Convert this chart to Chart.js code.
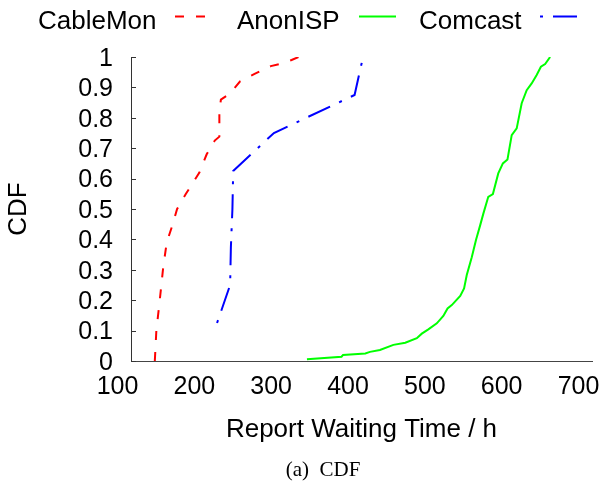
<!DOCTYPE html>
<html>
<head>
<meta charset="utf-8">
<script src="https://cdn.jsdelivr.net/npm/chart.js@4.4.1/dist/chart.umd.min.js"></script>
<style>
  html, body { margin: 0; padding: 0; background: #fff; }
</style>
</head>
<body>
<canvas id="cdf" width="603" height="484"></canvas>
<script>
// key names
const seriesNames = ['CableMon', 'AnonISP', 'Comcast'];

// CableMon: waiting time (h) / CDF
const cablemonX = [131, 133, 137, 142, 146.5, 153, 160, 171.5, 189, 198.5, 209, 215, 215, 217, 229, 242, 261.5, 282, 298, 309, 318];
const cablemonY = [0, 0.10, 0.19, 0.31, 0.39, 0.44, 0.50, 0.55, 0.62, 0.68, 0.725, 0.738, 0.82, 0.86, 0.88, 0.92, 0.945, 0.97, 0.98, 0.99, 1.0];

// AnonISP
const anonX = [329, 374, 376, 405, 411, 424, 441.5, 457, 472, 478.5, 487, 498, 506.5, 512, 517.5, 528.5, 533.5, 537, 543.5, 549, 554.5, 558.5, 565, 571, 578, 584, 590, 595.5, 602, 608.5, 615, 621.5, 628, 633.5, 639, 645.5];
const anonY = [0.006, 0.014, 0.02, 0.025, 0.03, 0.036, 0.053, 0.06, 0.075, 0.09, 0.104, 0.124, 0.148, 0.173, 0.184, 0.214, 0.239, 0.283, 0.341, 0.398, 0.447, 0.484, 0.54, 0.549, 0.617, 0.65, 0.663, 0.743, 0.765, 0.848, 0.891, 0.913, 0.941, 0.968, 0.977, 1.0];

// Comcast
const comcastX = [212, 229, 230, 232, 233, 286, 391, 402];
const comcastY = [0.125, 0.25, 0.375, 0.5, 0.625, 0.75, 0.875, 1.0];

// axis ticks
const xTickValues = [100, 200, 300, 400, 500, 600, 700];
const yTickValues = [0, 0.1, 0.2, 0.3, 0.4, 0.5, 0.6, 0.7, 0.8, 0.9, 1];

const SANS = '"Liberation Sans", Arial, sans-serif';
const SERIF = '"Liberation Serif", "Times New Roman", serif';

function toPoints(xs, ys) {
    return xs.map((x, i) => ({ x: x, y: ys[i] }));
}

// gnuplot style key (text first, then the line sample), inward y ticks and caption
const decorations = {
    id: 'decorations',
    afterDatasetsDraw(chart) {
        const ctx = chart.ctx;
        const area = chart.chartArea;
        const ys = chart.scales.y;
        ctx.save();

        ctx.strokeStyle = '#333';
        ctx.lineWidth = 1;
        ys.ticks.forEach(t => {
            const py = Math.round(ys.getPixelForValue(t.value)) + 0.5;
            ctx.beginPath();
            ctx.moveTo(area.left, py);
            ctx.lineTo(area.left + 5, py);
            ctx.stroke();
        });

        const textX = [38, 237, 419];
        const sample = [[175, 206], [359, 396], [540, 579]];
        ctx.font = '26px ' + SANS;
        ctx.fillStyle = '#000';
        ctx.textBaseline = 'alphabetic';
        ctx.textAlign = 'left';
        chart.data.datasets.forEach((ds, i) => {
            ctx.fillText(ds.label, textX[i], 28.5);
            ctx.strokeStyle = ds.borderColor;
            ctx.lineWidth = 2;
            ctx.setLineDash(ds.borderDash || []);
            ctx.lineDashOffset = ds.borderDashOffset || 0;
            ctx.beginPath();
            ctx.moveTo(sample[i][0], 16.5);
            ctx.lineTo(sample[i][1], 16.5);
            ctx.stroke();
        });
        ctx.setLineDash([]);

        ctx.font = '21px ' + SERIF;
        ctx.textAlign = 'center';
        ctx.fillStyle = '#000';
        ctx.fillText('(a)  CDF', 323, 475.5);
        ctx.restore();
    }
};

const ctx = document.getElementById('cdf').getContext('2d');
const chart = new Chart(ctx, {
    type: 'line',
    data: {
        datasets: [{
            label: seriesNames[0],
            data: toPoints(cablemonX, cablemonY),
            borderColor: '#ff0000',
            borderWidth: 2,
            borderDash: [9, 12],
            pointRadius: 0,
            tension: 0
        }, {
            label: seriesNames[1],
            data: toPoints(anonX, anonY),
            borderColor: '#00ff00',
            borderWidth: 2,
            pointRadius: 0,
            tension: 0
        }, {
            label: seriesNames[2],
            data: toPoints(comcastX, comcastY),
            borderColor: '#0000ff',
            borderWidth: 2,
            borderDash: [24, 10, 3, 10],
            borderDashOffset: 34,
            pointRadius: 0,
            tension: 0
        }]
    },
    options: {
        responsive: false,
        animation: false,
        layout: { padding: { top: 57, right: 11, bottom: 0, left: 0 } },
        plugins: {
            legend: { display: false },
            tooltip: { enabled: false }
        },
        scales: {
            x: {
                type: 'linear',
                min: 100,
                max: 700,
                afterBuildTicks: s => { s.ticks = xTickValues.map(v => ({ value: v })); },
                afterFit: s => { s.height = 123; s.paddingLeft = 0; s.paddingRight = 0; },
                ticks: {
                    font: { family: SANS, size: 25 },
                    color: '#000',
                    padding: 11,
                    labelOffset: -13.5,
                    maxRotation: 0,
                    autoSkip: false,
                    callback: v => String(v)
                },
                grid: { drawOnChartArea: false, drawTicks: false },
                border: { display: true, color: '#444', width: 1 },
                title: {
                    display: true,
                    text: 'Report Waiting Time / h',
                    font: { family: SANS, size: 26 },
                    color: '#000',
                    padding: { top: 0, bottom: 39 }
                }
            },
            y: {
                min: 0,
                max: 1,
                afterBuildTicks: s => { s.ticks = yTickValues.map(v => ({ value: v })); },
                afterFit: s => { s.width = 131; s.paddingTop = 0; s.paddingBottom = 0; },
                ticks: {
                    font: { family: SANS, size: 25 },
                    color: '#000',
                    padding: 18,
                    labelOffset: 2,
                    autoSkip: false,
                    callback: v => String(v)
                },
                grid: { drawOnChartArea: false, drawTicks: false },
                border: { display: true, color: '#333', width: 1 },
                title: {
                    display: true,
                    text: 'CDF',
                    font: { family: SANS, size: 26 },
                    color: '#000',
                    padding: { top: 3, bottom: 0 }
                }
            }
        }
    },
    plugins: [decorations]
});
</script>
</body>
</html>
